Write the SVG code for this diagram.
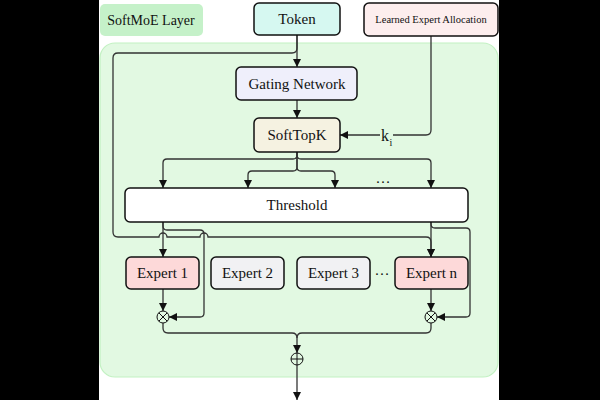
<svg xmlns="http://www.w3.org/2000/svg" width="600" height="400" viewBox="0 0 600 400">
<style>
  .lbl { font-family: "Liberation Serif", "Times New Roman", serif; font-size: 15px; fill: #111; text-anchor: middle; }
  .box { stroke: #111; stroke-width: 1.5; }
  .con { fill: none; stroke: #333; stroke-width: 1.3; }
  .op { fill: none; stroke: #111; stroke-width: 1; }
</style>
<defs>
  <marker id="arr" viewBox="0 0 10 10" refX="10" refY="5" markerWidth="9" markerHeight="8" markerUnits="userSpaceOnUse" orient="auto">
    <path d="M0,0 L10,5 L0,10 Z" fill="#111"/>
  </marker>
</defs>
<rect x="0" y="0" width="600" height="400" fill="#ffffff"/>
<rect x="0" y="0" width="99" height="400" fill="#000"/>
<rect x="499" y="0" width="101" height="400" fill="#000"/>

<g id="container">
  <rect x="100" y="43" width="398" height="334" rx="15" fill="#e2f9e2" stroke="#c2f1c2" stroke-width="1.2"/>
</g>
<g id="softmoe-label">
  <rect x="100" y="4" width="103" height="32" rx="5" fill="#c5f1c9"/>
  <text class="lbl" x="151" y="25" style="font-size:14px">SoftMoE Layer</text>
</g>

<g id="connectors">
  <path class="con" d="M297,35 V67" marker-end="url(#arr)"/>
  <path class="con" d="M297,35 V48 Q297,53 292,53 H118 Q113,53 113,58 V232 Q113,237 118,237 H159 a4,4 0 0 1 8,0 H200 a4,4 0 0 1 8,0 H426 Q431,237 431,242 V257" marker-end="url(#arr)"/>
  <path class="con" d="M297,100 V118" marker-end="url(#arr)"/>
  <path class="con" d="M431,36 V130 Q431,135 426,135 H340" marker-end="url(#arr)"/>
  <path class="con" d="M297,152 V155 Q297,159 293,159 H167 Q163,159 163,163 V188" marker-end="url(#arr)"/>
  <path class="con" d="M297,152 V155 Q297,159 301,159 H427 Q431,159 431,163 V188" marker-end="url(#arr)"/>
  <path class="con" d="M297,152 V167 Q297,171 293,171 H252 Q248,171 248,175 V188" marker-end="url(#arr)"/>
  <path class="con" d="M297,152 V167 Q297,171 301,171 H331 Q335,171 335,175 V188" marker-end="url(#arr)"/>
  <path class="con" d="M163,222 V257" marker-end="url(#arr)"/>
  <path class="con" d="M163,222 V226 Q163,230 167,230 H200 Q204,230 204,234 V313 Q204,317 200,317 H169" marker-end="url(#arr)"/>
  <path class="con" d="M431,222 V257" marker-end="url(#arr)"/>
  <path class="con" d="M431,222 V224 Q431,228 435,228 H466 Q470,228 470,232 V313 Q470,317 466,317 H437" marker-end="url(#arr)"/>
  <path class="con" d="M163,289 V311" marker-end="url(#arr)"/>
  <path class="con" d="M431,289 V311" marker-end="url(#arr)"/>
  <path class="con" d="M163,323 V328 Q163,333 168,333 H292 Q297,333 297,338 V353" marker-end="url(#arr)"/>
  <path class="con" d="M431,323 V328 Q431,333 426,333 H302 Q297,333 297,338"/>
  <path class="con" d="M297,365 V400" marker-end="url(#arr)"/>
  <rect x="380" y="129" width="13" height="18" fill="#e2f9e2"/>
  <text class="lbl" x="385" y="141" style="font-size:16px">k</text>
  <text class="lbl" x="391" y="146" style="font-size:10px">i</text>
</g>

<g id="token">
  <rect class="box" x="254" y="3" width="86" height="32" rx="5" fill="#d6f8f1"/>
  <text class="lbl" x="297" y="24">Token</text>
</g>
<g id="learned-expert-allocation">
  <rect class="box" x="364" y="3" width="134" height="33" rx="5" fill="#fdeeee"/>
  <text class="lbl" x="431" y="23" style="font-size:10.5px">Learned Expert Allocation</text>
</g>
<g id="gating-network">
  <rect class="box" x="236" y="67" width="121" height="33" rx="5" fill="#efeffb"/>
  <text class="lbl" x="297" y="89">Gating Network</text>
</g>
<g id="softtopk">
  <rect class="box" x="254" y="118" width="86" height="34" rx="5" fill="#f5f2e1"/>
  <text class="lbl" x="297" y="140">SoftTopK</text>
</g>
<g id="dots-top">
  <text class="lbl" x="383" y="183">…</text>
</g>
<g id="threshold">
  <rect class="box" x="125" y="188" width="343" height="34" rx="5" fill="#ffffff"/>
  <text class="lbl" x="297" y="210">Threshold</text>
</g>
<g id="expert-1">
  <rect class="box" x="126" y="257" width="73" height="32" rx="5" fill="#fdd9d9"/>
  <text class="lbl" x="162.5" y="278">Expert 1</text>
</g>
<g id="expert-2">
  <rect class="box" x="211" y="257" width="73" height="32" rx="5" fill="#f1f1f3"/>
  <text class="lbl" x="247.5" y="278">Expert 2</text>
</g>
<g id="expert-3">
  <rect class="box" x="297" y="257" width="73" height="32" rx="5" fill="#f1f1f3"/>
  <text class="lbl" x="333.5" y="278">Expert 3</text>
</g>
<g id="dots-experts">
  <text class="lbl" x="382" y="275">…</text>
</g>
<g id="expert-n">
  <rect class="box" x="395" y="257" width="73" height="32" rx="5" fill="#fdd9d9"/>
  <text class="lbl" x="431.5" y="278">Expert n</text>
</g>
<g id="mult-1">
  <circle cx="163" cy="317" r="6" fill="#e2f9e2" stroke="#111" stroke-width="1"/>
  <path class="op" d="M158.8,312.8 L167.2,321.2 M167.2,312.8 L158.8,321.2"/>
</g>
<g id="mult-n">
  <circle cx="431" cy="317" r="6" fill="#e2f9e2" stroke="#111" stroke-width="1"/>
  <path class="op" d="M426.8,312.8 L435.2,321.2 M435.2,312.8 L426.8,321.2"/>
</g>
<g id="sum">
  <circle cx="297" cy="359" r="6" fill="#e2f9e2" stroke="#111" stroke-width="1"/>
  <path class="op" d="M291,359 H303 M297,353 V365"/>
</g>
</svg>
